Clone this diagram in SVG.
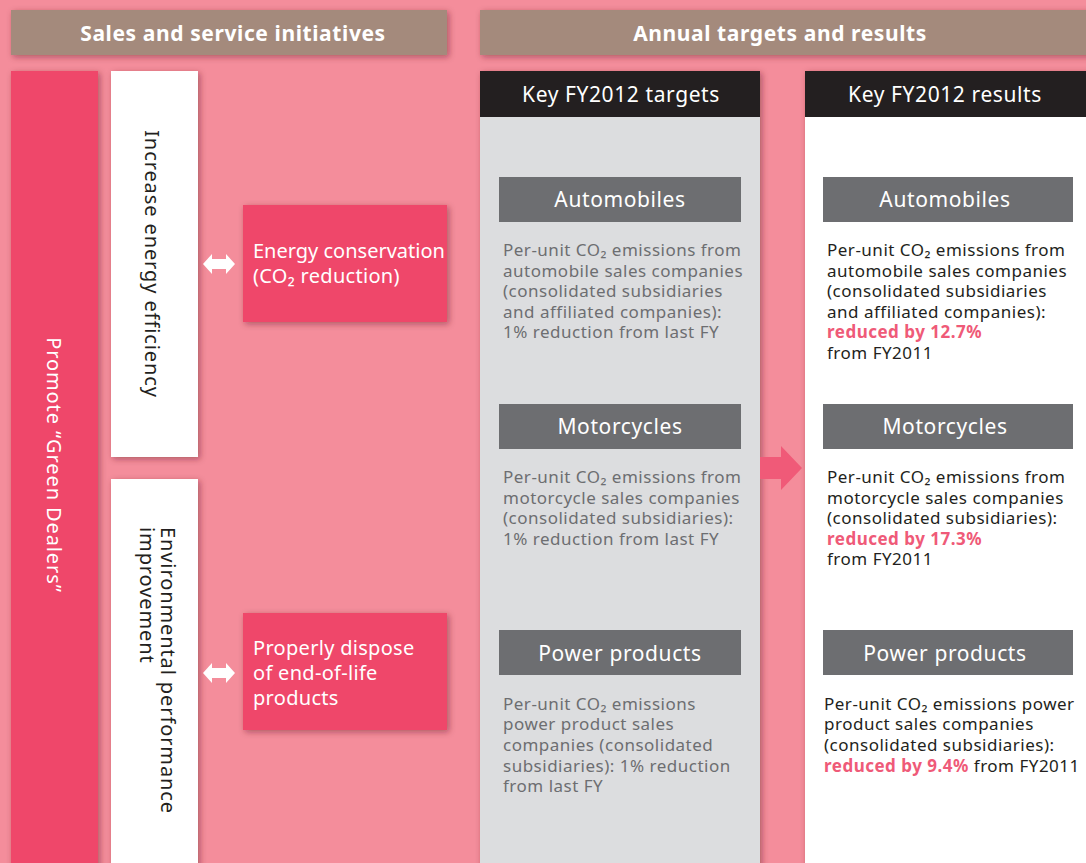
<svg xmlns="http://www.w3.org/2000/svg" width="1086" height="863" viewBox="0 0 1086 863">
<defs>
<filter id="sh" x="-20%" y="-20%" width="140%" height="140%">
<feDropShadow dx="2" dy="2" stdDeviation="3" flood-color="#5a1a28" flood-opacity="0.45"/>
</filter>
</defs>
<style>
text{font-family:"Noto Sans","Open Sans","Liberation Sans",sans-serif}
.hdr{fill:#A48A7C}
.hdrt{fill:#fff;font-size:21px;font-weight:bold;text-anchor:middle;letter-spacing:0.6px}
.red{fill:#EF476B}
.wht{fill:#fff}
.dark{fill:#231F20}
.colt{fill:#fff;font-size:21px;text-anchor:middle;letter-spacing:0.6px}
.sub{fill:#6D6E71}
.subt{fill:#fff;font-size:21px;text-anchor:middle;letter-spacing:0.6px}
.tg{fill:#6D6E71;font-size:17px;letter-spacing:0.5px}
.rs{fill:#231F20;font-size:17px;letter-spacing:0.5px}
.hl{fill:#EF5A78;font-weight:bold}
.wt{fill:#fff;font-size:20px;letter-spacing:0.3px}
.vw{fill:#fff;font-size:20px;letter-spacing:0.9px}
.vt{fill:#231F20;font-size:20px;letter-spacing:0.9px}
</style>
<rect width="1086" height="863" fill="#F48D9B"/>

<g id="header-left">
<rect class="hdr" x="11" y="10" width="436" height="45" filter="url(#sh)"/>
<text class="hdrt" x="233" y="41">Sales and service initiatives</text>
</g>
<g id="header-right">
<rect class="hdr" x="480" y="10" width="620" height="45" filter="url(#sh)"/>
<text class="hdrt" x="780" y="41">Annual targets and results</text>
</g>

<g id="promote">
<rect class="red" x="11" y="71" width="87" height="800" filter="url(#sh)"/>
<text class="vw" transform="translate(47,465) rotate(90)" text-anchor="middle">Promote “Green Dealers”</text>
</g>

<g id="energy-efficiency">
<rect class="wht" x="111" y="71" width="87" height="386" filter="url(#sh)"/>
<text class="vt" transform="translate(145,264) rotate(90)" text-anchor="middle">Increase energy efficiency</text>
</g>

<g id="env-improvement">
<rect class="wht" x="111" y="479" width="87" height="400" filter="url(#sh)"/>
<text class="vt" transform="translate(161,527) rotate(90)">Environmental performance</text>
<text class="vt" transform="translate(140,527) rotate(90)">improvement</text>
</g>

<g id="energy-conservation">
<rect class="red" x="243" y="205" width="204" height="117" filter="url(#sh)"/>
<text class="wt" x="253" y="258" style="letter-spacing:0">Energy conservation</text>
<text class="wt" x="253" y="283">(CO₂ reduction)</text>
</g>

<g id="dispose">
<rect class="red" x="243" y="613" width="204" height="117" filter="url(#sh)"/>
<text class="wt" x="253" y="655">Properly dispose</text>
<text class="wt" x="253" y="680">of end-of-life</text>
<text class="wt" x="253" y="705">products</text>
</g>

<g id="targets">
<rect x="480" y="71" width="280" height="800" fill="#DCDDDF" filter="url(#sh)"/>
<rect class="dark" x="480" y="71" width="280" height="46"/>
<text class="colt" x="621" y="102">Key FY2012 targets</text>
<rect class="sub" x="499" y="177" width="242" height="45"/>
<text class="subt" x="620" y="207">Automobiles</text>
<text class="tg"><tspan x="503" y="256">Per-unit CO₂ emissions from</tspan><tspan x="503" y="277">automobile sales companies</tspan><tspan x="503" y="297">(consolidated subsidiaries</tspan><tspan x="503" y="318">and affiliated companies):</tspan><tspan x="503" y="338">1% reduction from last FY</tspan></text>
<rect class="sub" x="499" y="404" width="242" height="45"/>
<text class="subt" x="620" y="434">Motorcycles</text>
<text class="tg"><tspan x="503" y="483">Per-unit CO₂ emissions from</tspan><tspan x="503" y="504">motorcycle sales companies</tspan><tspan x="503" y="524">(consolidated subsidiaries):</tspan><tspan x="503" y="545">1% reduction from last FY</tspan></text>
<rect class="sub" x="499" y="630" width="242" height="45"/>
<text class="subt" x="620" y="661">Power products</text>
<text class="tg"><tspan x="503" y="710">Per-unit CO₂ emissions</tspan><tspan x="503" y="730">power product sales</tspan><tspan x="503" y="751">companies (consolidated</tspan><tspan x="503" y="772">subsidiaries): 1% reduction</tspan><tspan x="503" y="792">from last FY</tspan></text>
</g>

<g id="results">
<rect class="wht" x="805" y="71" width="300" height="800" filter="url(#sh)"/>
<rect class="dark" x="805" y="71" width="300" height="46"/>
<text class="colt" x="945" y="102">Key FY2012 results</text>
<rect class="sub" x="823" y="177" width="250" height="45"/>
<text class="subt" x="945" y="207">Automobiles</text>
<text class="rs"><tspan x="827" y="256">Per-unit CO₂ emissions from</tspan><tspan x="827" y="277">automobile sales companies</tspan><tspan x="827" y="297">(consolidated subsidiaries</tspan><tspan x="827" y="318">and affiliated companies):</tspan><tspan x="827" y="338" class="hl">reduced by 12.7%</tspan><tspan x="827" y="359">from FY2011</tspan></text>
<rect class="sub" x="823" y="404" width="250" height="45"/>
<text class="subt" x="945" y="434">Motorcycles</text>
<text class="rs"><tspan x="827" y="483">Per-unit CO₂ emissions from</tspan><tspan x="827" y="504">motorcycle sales companies</tspan><tspan x="827" y="524">(consolidated subsidiaries):</tspan><tspan x="827" y="545" class="hl">reduced by 17.3%</tspan><tspan x="827" y="565">from FY2011</tspan></text>
<rect class="sub" x="823" y="630" width="250" height="45"/>
<text class="subt" x="945" y="661">Power products</text>
<text class="rs"><tspan x="824" y="710">Per-unit CO₂ emissions power</tspan><tspan x="824" y="730">product sales companies</tspan><tspan x="824" y="751">(consolidated subsidiaries):</tspan><tspan x="824" y="772"><tspan class="hl">reduced by 9.4%</tspan> from FY2011</tspan></text>
</g>

<g id="connectors">
<path d="M203,264 L212,254 L212,259 L226,259 L226,254 L235,264 L226,274 L226,269 L212,269 L212,274 Z" fill="#fff"/>
<path d="M203,673 L212,663 L212,668 L226,668 L226,663 L235,673 L226,683 L226,678 L212,678 L212,683 Z" fill="#fff"/>
<path d="M760,457 L781,457 L781,446 L802,468 L781,490 L781,479 L760,479 Z" fill="#F05A78"/>
</g>
</svg>
